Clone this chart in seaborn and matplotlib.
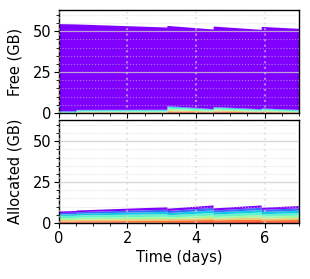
import numpy as np
import matplotlib
matplotlib.use("Agg")
import matplotlib.pyplot as plt
import seaborn as sns
from matplotlib.ticker import MultipleLocator

# time points (days); repeated values mark the jumps
time_days = [0.0, 0.5, 0.5, 3.15, 3.15, 4.5, 4.5, 5.9, 5.9, 7.0]

# free memory per group (GB), bottom (red) to top (purple)
free_red = [0.0, 0.0, 0.2, 0.2, 0.5, 0.3, 0.5, 0.3, 0.4, 0.2]
free_orange = [0.0, 0.0, 0.3, 0.3, 0.7, 0.4, 0.6, 0.4, 0.5, 0.3]
free_yellow = [0.1, 0.1, 0.3, 0.3, 0.8, 0.5, 0.7, 0.4, 0.5, 0.3]
free_green = [0.3, 0.3, 0.4, 0.4, 0.9, 0.5, 0.8, 0.5, 0.6, 0.4]
free_cyan = [0.5, 0.5, 0.5, 0.6, 0.8, 0.5, 0.7, 0.5, 0.6, 0.5]
free_ltblue = [0.3, 0.3, 0.3, 0.3, 0.5, 0.3, 0.4, 0.3, 0.3, 0.3]
free_blue = [0.2, 0.2, 0.2, 0.2, 0.3, 0.2, 0.3, 0.2, 0.2, 0.2]
free_purple = [53.3, 53.1, 52.3, 50.3, 49.1, 48.7, 49.2, 48.6, 49.9, 49.6]

# allocated memory per group (GB)
alloc_red = [0.4, 0.4, 0.4, 0.5, 0.6, 0.7, 0.6, 0.8, 0.6, 0.7]
alloc_orange = [0.8, 0.8, 0.9, 1.0, 1.2, 1.4, 1.3, 1.5, 1.3, 1.4]
alloc_yellow = [0.9, 0.9, 1.0, 1.2, 0.9, 1.2, 1.0, 1.3, 1.1, 1.2]
alloc_green = [1.1, 1.1, 1.2, 1.4, 1.0, 1.4, 1.1, 1.4, 1.2, 1.4]
alloc_cyan = [1.2, 1.3, 1.3, 1.6, 1.3, 1.7, 1.4, 1.7, 1.4, 1.6]
alloc_ltblue = [1.1, 1.1, 1.1, 1.4, 1.3, 1.6, 1.3, 1.5, 1.4, 1.5]
alloc_blue = [0.9, 0.9, 1.0, 1.3, 1.3, 1.5, 1.2, 1.4, 1.3, 1.4]
alloc_purple = [0.9, 1.1, 1.0, 1.5, 1.4, 1.5, 1.3, 1.4, 1.3, 1.4]

free_layers = [free_red, free_orange, free_yellow, free_green,
               free_cyan, free_ltblue, free_blue, free_purple]
alloc_layers = [alloc_red, alloc_orange, alloc_yellow, alloc_green,
                alloc_cyan, alloc_ltblue, alloc_blue, alloc_purple]

sns.set_style("ticks")
plt.rcParams['font.family'] = ['DejaVu Sans']
plt.rcParams['text.color'] = 'black'
plt.rcParams['axes.labelcolor'] = 'black'
plt.rcParams['xtick.color'] = 'black'
plt.rcParams['ytick.color'] = 'black'

cmap = sns.color_palette("rainbow", as_cmap=True)
colors = cmap(np.linspace(1, 0, len(free_layers)))

fig = plt.figure(figsize=(3.10, 2.79), dpi=100)
ax_free = fig.add_axes([0.190, 0.595, 0.774, 0.369])
ax_alloc = fig.add_axes([0.190, 0.201, 0.774, 0.369], sharex=ax_free)

for ax, layers, label in [(ax_free, free_layers, "Free (GB)"),
                          (ax_alloc, alloc_layers, "Allocated (GB)")]:
    ax.stackplot(time_days, *layers, colors=colors, linewidth=0)
    ax.set_xlim(0, 7)
    ax.set_ylim(0, 63)
    ax.set_ylabel(label, fontsize=10.5)
    ax.yaxis.set_major_locator(MultipleLocator(25))
    ax.yaxis.set_minor_locator(MultipleLocator(5))
    ax.xaxis.set_major_locator(MultipleLocator(2))
    ax.xaxis.set_minor_locator(MultipleLocator(0.5))
    ax.set_axisbelow(False)
    # horizontal grid: solid major, dotted minor
    ax.grid(axis="y", which="major", color="#cccccc", alpha=0.8,
            linewidth=0.9, linestyle="-")
    ax.grid(axis="y", which="minor", color="#cccccc", alpha=0.6,
            linewidth=0.8, linestyle=":")
    # vertical grid: dotted, major only
    ax.grid(axis="x", which="major", color="#d8d8d8", alpha=0.6,
            linewidth=1.5, linestyle=":")
    ax.tick_params(which="major", direction="out", length=3.5, width=0.8,
                   labelsize=10.5, pad=2)
    ax.tick_params(which="minor", direction="out", length=2, width=0.6)
    for sp in ax.spines.values():
        sp.set_linewidth(1.0)
        sp.set_color("black")

ax_free.tick_params(axis="x", labelbottom=False)
ax_alloc.set_xlabel("Time (days)", fontsize=10.5, labelpad=3)
ax_free.yaxis.set_label_coords(-0.15, 0.5)
ax_alloc.yaxis.set_label_coords(-0.15, 0.5)

fig.savefig("out.png", dpi=100)
